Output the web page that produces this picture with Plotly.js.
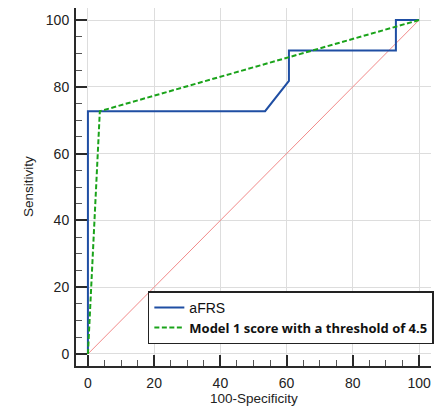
<!DOCTYPE html>
<html><head><meta charset="utf-8">
<script src="https://cdn.plot.ly/plotly-3.0.1.min.js"></script>
<style>html,body{margin:0;padding:0;background:#fff}#chart{width:442px;height:407px}</style>
</head><body><div id="chart"></div>
<script>
const afrsX = [0, 0, 53.5, 60.7, 60.7, 93, 93, 100];
const afrsY = [0, 72.7, 72.7, 81.8, 90.9, 90.9, 100, 100];
const model1X = [0, 3.6, 100];
const model1Y = [0, 72.7, 100];
const refX = [0, 100];
const refY = [0, 100];
const tickVals = [0, 20, 40, 60, 80, 100];
const names = ['<span style="font-family:Liberation Sans;font-size:14px">aFRS</span>', '<b>Model 1 score with a threshold of 4.5</b>'];
const xTitle = '100-Specificity';
const yTitle = 'Sensitivity';

const traces = [
  {x: refX, y: refY, mode: 'lines', line: {color: '#f28a8a', width: 1}, showlegend: false, hoverinfo: 'skip'},
  {x: afrsX, y: afrsY, mode: 'lines', name: names[0], line: {color: '#1f4ea3', width: 2}},
  {x: model1X, y: model1Y, mode: 'lines', name: names[1], line: {color: '#1aa31a', width: 2, dash: '5px,2.5px'}}
];

const axisCommon = {
  range: [-3.6, 103.6], tickvals: tickVals, ticks: 'inside', ticklen: 11, tickwidth: 2,
  tickcolor: '#2a2a2a', showline: true, linecolor: '#2a2a2a', linewidth: 2, showgrid: true, gridcolor: '#dddddd',
  gridwidth: 1, zeroline: false, tickfont: {family: 'Liberation Sans, Arial', size: 14, color: '#222'},
  minor: {dtick: 5, ticks: 'inside', ticklen: 6, tickwidth: 1, tickcolor: '#555', showgrid: false},
  fixedrange: true, automargin: false
};

const layout = {
  width: 442, height: 407,
  margin: {l: 76, r: 8, t: 8, b: 41},
  paper_bgcolor: '#fff', plot_bgcolor: '#fff',
  xaxis: Object.assign({}, axisCommon, {ticklabelstandoff: 3}),
  yaxis: Object.assign({}, axisCommon, {ticklabelstandoff: 2}),
  legend: {x: 1.008, xanchor: 'right', y: 0.061, yanchor: 'bottom', bgcolor: '#fff', bordercolor: '#222', borderwidth: 1.5,
    font: {family: 'Open Sans, Liberation Sans', size: 13, color: '#111'}, tracegroupgap: 0, itemwidth: 30},
  showlegend: true,
  annotations: [
    {text: xTitle, xref: 'paper', yref: 'paper', x: 0.5, y: 0, yanchor: 'middle', yshift: -32, showarrow: false,
      font: {family: 'Liberation Sans, Arial', size: 13.5, color: '#222'}},
    {text: yTitle, xref: 'paper', yref: 'paper', x: 0, y: 0.5, xanchor: 'center', xshift: -48, textangle: -90, showarrow: false,
      font: {family: 'Liberation Sans, Arial', size: 13.5, color: '#222'}}
  ]
};

Plotly.newPlot('chart', traces, layout, {displayModeBar: false, staticPlot: true});
</script></body></html>
